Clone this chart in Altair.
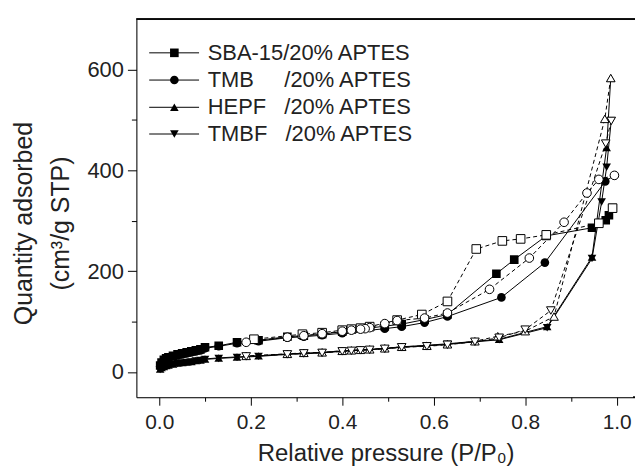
import altair as alt
import pandas as pd

# ---------------- data -----------------------------------------
series_names = ["SBA-15", "TMB", "HEPF", "TMBF"]
legend_labels = [
    "SBA-15/20% APTES",
    "TMB\u00a0\u00a0\u00a0\u00a0\u00a0/20% APTES",
    "HEPF\u00a0\u00a0\u00a0/20% APTES",
    "TMBF\u00a0\u00a0\u00a0/20% APTES",
]

# SBA-15 adsorption
sba_ads_x = [0.002, 0.005, 0.01, 0.015, 0.02, 0.03, 0.04, 0.05, 0.06, 0.07, 0.08, 0.09, 0.10, 0.13, 0.17, 0.217, 0.28, 0.316, 0.356, 0.40, 0.493, 0.53, 0.58, 0.63, 0.737, 0.776, 0.846, 0.946, 0.976, 0.983, 0.991]
sba_ads_y = [13, 19, 24, 27, 29, 32, 35, 37, 39, 41, 43, 45, 49, 52, 59, 63, 70, 72, 75, 80, 91, 95, 104, 114, 195, 223, 270, 286, 301, 311, 325]
# SBA-15 desorption
sba_des_x = [0.991, 0.961, 0.846, 0.79, 0.75, 0.693, 0.63, 0.574, 0.52, 0.46, 0.44, 0.42, 0.40, 0.356, 0.313, 0.207]
sba_des_y = [325, 295, 272, 264, 260, 244, 140, 114, 103, 90, 87, 85, 83, 78, 75, 65]

# TMB adsorption
tmb_ads_x = [0.002, 0.005, 0.01, 0.015, 0.02, 0.03, 0.04, 0.05, 0.06, 0.07, 0.08, 0.09, 0.10, 0.13, 0.17, 0.217, 0.28, 0.316, 0.356, 0.40, 0.493, 0.53, 0.58, 0.63, 0.748, 0.843, 0.975, 0.995]
tmb_ads_y = [11, 17, 22, 25, 28, 31, 33, 35, 37, 39, 41, 43, 47, 51, 57, 61, 68, 70, 73, 77, 86, 90, 98, 110, 148, 217, 378, 390]
# TMB desorption
tmb_des_x = [0.995, 0.961, 0.935, 0.885, 0.809, 0.722, 0.63, 0.58, 0.52, 0.493, 0.46, 0.45, 0.44, 0.42, 0.40, 0.356, 0.316, 0.28, 0.19]
tmb_des_y = [390, 382, 355, 297, 226, 164, 117, 107, 102, 96, 88, 86, 85, 83, 81, 76, 72, 69, 59]

# HEPF adsorption
hepf_ads_x = [0.002, 0.005, 0.01, 0.015, 0.02, 0.03, 0.04, 0.05, 0.06, 0.07, 0.08, 0.09, 0.10, 0.13, 0.17, 0.217, 0.28, 0.316, 0.356, 0.40, 0.493, 0.53, 0.585, 0.63, 0.743, 0.848, 0.946, 0.978, 0.987]
hepf_ads_y = [6, 9, 11, 13, 14, 16, 18, 19, 20, 21, 23, 24, 26, 28, 30, 32, 36, 37, 39, 42, 47, 50, 53, 56, 65, 90, 228, 445, 583]
# HEPF desorption
hepf_des_x = [0.987, 0.974, 0.863, 0.80, 0.74, 0.69, 0.63, 0.585, 0.53, 0.493, 0.46, 0.44, 0.42, 0.40, 0.356, 0.316, 0.28, 0.19]
hepf_des_y = [583, 502, 110, 81, 71, 61, 55, 52, 50, 47, 45, 44, 43, 42, 39, 38, 36, 32]

# TMBF adsorption
tmbf_ads_x = [0.002, 0.005, 0.01, 0.015, 0.02, 0.03, 0.04, 0.05, 0.06, 0.07, 0.08, 0.09, 0.10, 0.13, 0.17, 0.217, 0.28, 0.316, 0.356, 0.40, 0.493, 0.53, 0.585, 0.63, 0.743, 0.848, 0.946, 0.967, 0.978, 0.988]
tmbf_ads_y = [5, 8, 10, 12, 13, 15, 17, 18, 19, 20, 22, 23, 25, 27, 29, 31, 35, 36, 38, 41, 46, 49, 52, 55, 64, 88, 225, 337, 406, 498]
# TMBF desorption
tmbf_des_x = [0.988, 0.976, 0.856, 0.80, 0.743, 0.69, 0.63, 0.585, 0.53, 0.493, 0.46, 0.44, 0.42, 0.40, 0.356, 0.316, 0.28, 0.19]
tmbf_des_y = [498, 453, 122, 84, 68, 60, 54, 51, 49, 46, 44, 43, 42, 41, 38, 37, 35, 31]

x_ticks = [0.0, 0.1, 0.2, 0.3, 0.4, 0.5, 0.6, 0.7, 0.8, 0.9, 1.0]
y_ticks = [0, 100, 200, 300, 400, 500, 600]

# ---------------- build tables -----------------
rows = []
def add(name, branch, xs, ys):
    for i, (xv, yv) in enumerate(zip(xs, ys)):
        rows.append({"series": name, "branch": branch, "x": xv, "y": yv, "idx": i})

add("SBA-15", "ads", sba_ads_x, sba_ads_y)
add("SBA-15", "des", sba_des_x, sba_des_y)
add("TMB", "ads", tmb_ads_x, tmb_ads_y)
add("TMB", "des", tmb_des_x, tmb_des_y)
add("HEPF", "ads", hepf_ads_x, hepf_ads_y)
add("HEPF", "des", hepf_des_x, hepf_des_y)
add("TMBF", "ads", tmbf_ads_x, tmbf_ads_y)
add("TMBF", "des", tmbf_des_x, tmbf_des_y)
df = pd.DataFrame(rows)

# legend table (layout in data space)
leg_y = [633, 579, 525, 472]
leg = pd.DataFrame({
    "series": series_names,
    "label": legend_labels,
    "x0": [-0.022] * 4,
    "x1": [0.087] * 4,
    "xm": [0.033] * 4,
    "xt": [0.106] * 4,
    "y": leg_y,
})

FONT = "Liberation Sans"
PW, PH = 501, 380
MS = 75
shapes = ["square", "circle", "triangle-up", "triangle-down"]
xscale = alt.Scale(domain=[-0.05, 1.04], nice=False, zero=False)
yscale = alt.Scale(domain=[-50, 700], nice=False, zero=False)
shape_scale = alt.Scale(domain=series_names, range=shapes)

x_axis = alt.Axis(
    values=x_ticks, format=".1f",
    labelExpr="abs(round(datum.value*10)) % 2 == 0 ? datum.label : ''",
    tickSize={"condition": {"test": "abs(round(datum.value*10)) % 2 == 1", "value": 4}, "value": 8},
    title="Relative pressure (P/P\u2080)", grid=False,
    labelFontSize=21, titleFontSize=24, labelPadding=6, titlePadding=10,
    titleFontWeight="normal", labelFont=FONT, titleFont=FONT,
    domainColor="black", tickColor="black", labelColor="#222", titleColor="#222",
    labelFlush=False,
)
y_axis = alt.Axis(
    values=y_ticks,
    labelExpr="datum.value % 200 == 0 ? datum.label : ''",
    tickSize={"condition": {"test": "datum.value % 200 != 0", "value": 5}, "value": 9},
    title=["Quantity adsorbed", "(cm\u00b3/g STP)"], grid=False,
    labelFontSize=22, titleFontSize=25, titleLineHeight=38, labelPadding=4, titlePadding=13,
    titleY=205,
    titleFontWeight="normal", labelFont=FONT, titleFont=FONT,
    domainColor="black", tickColor="black", labelColor="#222", titleColor="#222",
    labelFlush=False,
)

base = alt.Chart(df)

line_ads = base.transform_filter("datum.branch == 'ads'").mark_line(
    color="black", strokeWidth=1, clip=True
).encode(
    x=alt.X("x:Q", scale=xscale, axis=x_axis),
    y=alt.Y("y:Q", scale=yscale, axis=y_axis),
    detail="series:N",
    order="idx:Q",
)
line_des = base.transform_filter("datum.branch == 'des'").mark_line(
    color="black", strokeWidth=1, strokeDash=[4, 3], clip=True
).encode(
    x=alt.X("x:Q", scale=xscale),
    y=alt.Y("y:Q", scale=yscale),
    detail="series:N",
    order="idx:Q",
)
pts_ads = base.transform_filter("datum.branch == 'ads'").mark_point(
    filled=True, color="black", size=MS, opacity=1, clip=True
).encode(
    x=alt.X("x:Q", scale=xscale),
    y=alt.Y("y:Q", scale=yscale),
    shape=alt.Shape("series:N", scale=shape_scale, legend=None),
)
pts_des = base.transform_filter("datum.branch == 'des'").mark_point(
    filled=True, fill="white", stroke="black", strokeWidth=1, size=MS, opacity=1, clip=True
).encode(
    x=alt.X("x:Q", scale=xscale),
    y=alt.Y("y:Q", scale=yscale),
    shape=alt.Shape("series:N", scale=shape_scale, legend=None),
)

# top frame line and extension of the bottom frame to the page edge
top_frame = alt.Chart(leg).mark_rule(color="black", strokeWidth=1).encode(
    x=alt.value(0), x2=alt.value(PW + 10), y=alt.value(0)
)
bottom_ext = alt.Chart(leg).mark_rule(color="black", strokeWidth=1).encode(
    x=alt.value(PW - 2), x2=alt.value(PW + 10), y=alt.value(PH)
)

lb = alt.Chart(leg)
leg_lines = lb.mark_rule(color="black", strokeWidth=1).encode(
    x=alt.X("x0:Q", scale=xscale),
    x2="x1:Q",
    y=alt.Y("y:Q", scale=yscale),
)
leg_pts = lb.mark_point(filled=True, color="black", size=MS, opacity=1).encode(
    x=alt.X("xm:Q", scale=xscale),
    y=alt.Y("y:Q", scale=yscale),
    shape=alt.Shape("series:N", scale=shape_scale, legend=None),
)
leg_txt = lb.mark_text(align="left", baseline="middle", font=FONT, fontSize=22, color="#222").encode(
    x=alt.X("xt:Q", scale=xscale),
    y=alt.Y("y:Q", scale=yscale),
    text="label:N",
)

chart = alt.layer(
    line_ads, line_des, pts_ads, pts_des, top_frame, bottom_ext, leg_lines, leg_pts, leg_txt
).properties(
    width=PW, height=PH,
    autosize=alt.AutoSizeParams(type="none"),
    padding={"left": 129, "top": 10, "right": 0, "bottom": 69},
).configure_view(stroke=None).configure(background="white")

chart.save("out.html", embed_options={"renderer": "svg", "actions": False})
